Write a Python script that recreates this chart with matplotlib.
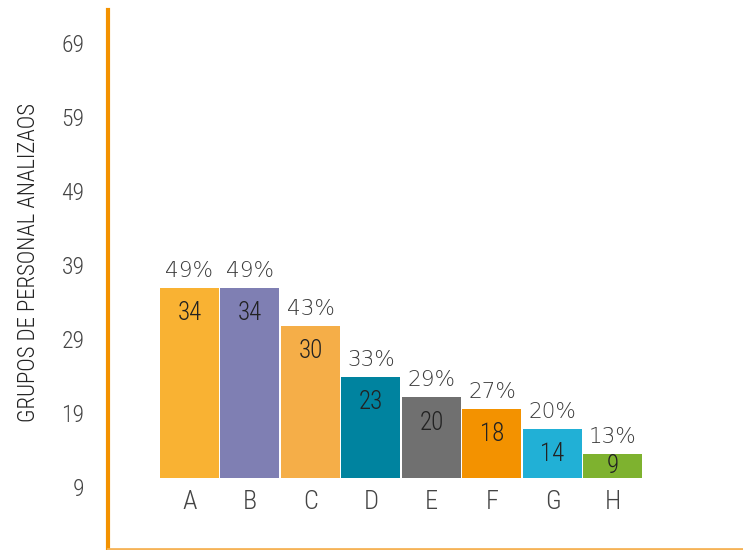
import matplotlib
matplotlib.use("Agg")
import matplotlib.pyplot as plt
from matplotlib import font_manager

# data
categories = ["A", "B", "C", "D", "E", "F", "G", "H"]
counts = [34, 34, 30, 23, 20, 18, 14, 9]
percents = [49, 49, 43, 33, 29, 27, 20, 13]
# bar tops / baseline measured against the printed y axis
bar_tops = [35.9, 35.9, 30.8, 23.9, 21.1, 19.5, 16.8, 13.5]
baseline = 10.2
yticks = [9, 19, 29, 39, 49, 59, 69]
colors = ["#F9B233", "#7F7FB3", "#F5AE48", "#00839F",
          "#707070", "#F39200", "#21B0D6", "#7EB22F"]

# pick a narrow font if the system has one
names = {(f.name, f.stretch) for f in font_manager.fontManager.ttflist}
narrow = "DejaVu Sans"
narrow_stretch = "normal"
for n in ["Roboto Condensed", "Liberation Sans Narrow", "Open Sans Condensed"]:
    if any(nm == n for nm, _ in names):
        narrow = n
        break
else:
    if ("DejaVu Sans", "condensed") in names:
        narrow_stretch = "condensed"

txt = "#3a3a3a"
orange = "#F39200"
nfont = dict(family=narrow, fontstretch=narrow_stretch, fontweight="light")

fig = plt.figure(figsize=(7.43, 5.50), dpi=100)
ax = fig.add_axes([108 / 743, 1 / 550, 1 - 108 / 743, 539 / 550])

x = list(range(len(categories)))
heights = [t - baseline for t in bar_tops]
ax.bar(x, heights, bottom=baseline, width=0.975, color=colors, linewidth=0)

ax.set_xlim(-1.347, 9.149)
ax.set_ylim(0.62, 73.46)

for i in x:
    ax.annotate(f"{percents[i]}%", (i, bar_tops[i]), xytext=(0, 8),
                textcoords="offset points", ha="center", va="baseline",
                fontsize=15.5, color=txt, family="DejaVu Sans",
                fontweight="light")
    ly = max(bar_tops[i] - 3.4, (bar_tops[i] + baseline) / 2)
    ax.text(i, ly, str(counts[i]), ha="center", va="center",
            fontsize=18, color="#222222", **nfont)
    ax.annotate(categories[i], (i, baseline), xytext=(0, -17),
                textcoords="offset points", ha="center", va="center",
                fontsize=19, color="#444444", **nfont)

ax.set_yticks(yticks)
ax.set_yticklabels([str(v) for v in yticks], fontsize=17,
                   color="#444444", **nfont)
ax.tick_params(axis="y", length=0, pad=17)
ax.set_xticks([])

ax.set_ylabel("GRUPOS DE PERSONAL ANALIZAOS", fontsize=16.5,
              color="#222222", **nfont)
ax.yaxis.set_label_coords(-0.1075, 0.532)

for s in ["top", "right"]:
    ax.spines[s].set_visible(False)
ax.spines["left"].set_color(orange)
ax.spines["left"].set_linewidth(3)
ax.spines["bottom"].set_color("#F6B357")
ax.spines["bottom"].set_linewidth(2)

fig.savefig("out.png", dpi=100)
